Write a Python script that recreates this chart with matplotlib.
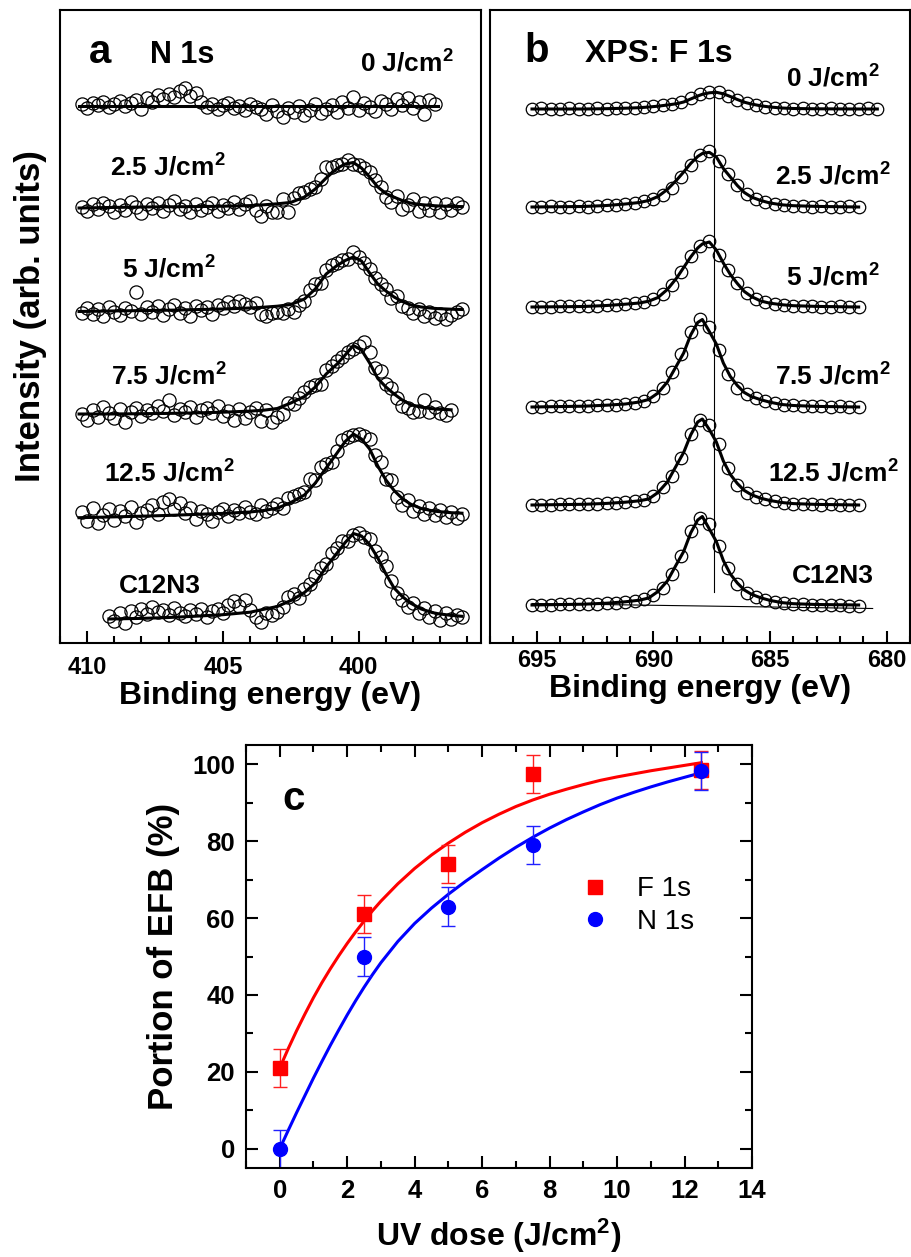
import numpy as np
import matplotlib
matplotlib.use('Agg')
import matplotlib.pyplot as plt
from matplotlib.ticker import MultipleLocator

plt.rcParams['font.family'] = ['Liberation Sans', 'DejaVu Sans']
plt.rcParams['font.weight'] = 'bold'
plt.rcParams['axes.labelweight'] = 'bold'
plt.rcParams['mathtext.fontset'] = 'custom'
plt.rcParams['mathtext.rm'] = 'Liberation Sans:bold'
plt.rcParams['mathtext.it'] = 'Liberation Sans:bold'
plt.rcParams['mathtext.bf'] = 'Liberation Sans:bold'

nan = np.nan

#------ panel a: N 1s spectra, intensity in arb. units (stacked) ------
n1s_names = ['0 J/cm$^2$', '2.5 J/cm$^2$', '5 J/cm$^2$', '7.5 J/cm$^2$', '12.5 J/cm$^2$', 'C12N3']
n1s_offset = [537, 436, 333, 229, 126, 24]
n1s_start = [410.2, 410.2, 410.2, 410.2, 410.2, 409.2]  # eV, first point of each scan
n1s_step = 0.2  # eV

n1s_0 = [2, -2, 3, 1, 4, -1, 2, 5, 0, 3, 6, -3, 8, 4, 11, 7, 12, 9, 15, 18, 10, 13, 4, -1, 2, -3, 1, 3, -2, 0,
         -4, 2, -1, -3, -8, 1, -5, -11, -2, -6, 0, -9, -4, 2, -7, -3, 1, -6, 4, -2, 9, -4, 3, -1, -5, 5, 2, -3,
         7, 1, 8, -2, 4, -8, 6, 2]
n1s_25 = [0, -4, 3, -2, 4, 1, -5, 2, -3, 5, 0, -6, 3, -1, 4, -4, 2, 6, -2, 1, -5, 3, -3, 0, 4, -4, 2, -1, 5, -2,
          3, 6, -3, -9, 1, -5, -5, 8, -5, 9, 14, 15, 18, 20, 28, 40, 40, 42, 43, 47, 43, 42, 39, 35, 27, 20, 10,
          5, 11, -2, 2, 8, -4, 4, -3, 4, -5, 3, -3, 4, 0]
n1s_5 = [-3, 2, -4, 1, -6, 3, -2, -5, 2, -1, 18, -4, 3, -2, 4, -5, 1, 5, -3, 2, -6, 4, 0, 3, -4, 5, 2, 8, 4, 9,
         6, 3, 7, -4, -6, -3, -2, -3, 1, -2, 5, 9, 20, 26, 27, 40, 45, 47, 50, 51, 58, 53, 47, 41, 32, 26, 21,
         12, 14, 4, 2, -3, 1, -6, -2, -8, -4, -9, -5, -2, 1]
n1s_75 = [0, -6, 4, -3, 7, 1, -4, 5, -8, 2, 6, -2, 4, 1, 8, 3, 14, -1, 5, 2, 7, -3, 4, 6, 1, 8, -2, 3, -6, 5,
          -4, 2, 6, -7, 4, -8, -3, 0, 11, 10, 16, 22, 27, 29, 30, 44, 48, 53, 57, 62, 65, 68, 72, 62, 46, 43, 30,
          26, 16, 8, 6, 2, 3, 14, 2, 7, 1, -1, 4]
n1s_125 = [5, -4, 9, -6, 2, 8, -3, 6, 1, 10, -5, 4, 7, 12, 3, 15, 18, 8, 14, 4, 9, -2, 6, 3, -4, 5, 8, 1, 7, 4,
           10, 5, 3, 12, 6, 9, 13, 9, 19, 21, 23, 25, 38, 37, 50, 53, 55, 66, 77, 80, 82, 83, 81, 78, 62, 55, 38,
           37, 20, 12, 17, 6, 11, 3, 9, 2, 7, 0, 5, -1, 3]
n1s_c12 = [3, -2, 6, -4, 8, 2, 10, 5, 12, 7, 9, 4, 11, 6, 3, 9, 5, 10, 2, 8, 10, 6, 14, 18, 13, 19, 9, 2, -3, 6,
           4, 7, 12, 22, 25, 21, 30, 35, 43, 51, 55, 66, 71, 78, 78, 84, 86, 82, 80, 68, 62, 53, 38, 26, 19, 12,
           16, 6, 11, 2, 8, -1, 6, 0, 4, 2]
n1s_data = [n1s_0, n1s_25, n1s_5, n1s_75, n1s_125, n1s_c12]

# fitted curves, read on a coarser energy grid
n1s_fit_e = [410.3, 409.2, 408, 407, 406, 405, 404, 403.5, 403, 402.5, 402, 401.6, 401.2, 400.8, 400.5, 400.2,
             399.9, 399.6, 399.3, 399.0, 398.7, 398.4, 398.1, 397.7, 397.3, 397.1, 396.6, 396.2]
n1s_fit_0 = [0, 0, 0, 0, 0, 0, 0, 0, 0, 0, 0, 0, 0, 0, 0, 0, 0, 0, 0, 0, 0, 0, 0, 0, 0, 0, nan, nan]
n1s_fit_25 = [-1, -0.5, 0, 0.2, 0.4, 0.8, 1.4, 2.2, 3.2, 4.6, 10, 18, 29, 38.5, 43, 44.5, 39, 30, 20, 13.5,
              9.8, 6.5, 4, 2.4, 1.4, 1.1, 0.6, 0.4]
n1s_fit_5 = [-1.5, -1, -0.6, -0.2, 0.4, 1, 2, 2.8, 3.8, 5.5, 11, 21, 36, 44.5, 49.5, 53, 49, 37, 26, 19,
             13, 8.5, 5.2, 3, 1.8, 1.4, 0.8, 0.5]
n1s_fit_75 = [0, 0, 0.3, 0.6, 1.1, 1.8, 2.9, 3.8, 5.5, 11, 17.5, 27, 40, 50, 59, 68.5, 64, 51, 35.5, 27,
              20, 14, 9.5, 6.8, 5.3, 4.8, 4.2, nan]
n1s_fit_125 = [-0.7, 0, 0.8, 1.6, 2.6, 3.6, 5, 6.5, 8.8, 14.5, 22, 34, 49, 64, 75.5, 83, 78, 68, 51, 37,
               26.5, 18.5, 13, 8.5, 6.2, 5.5, 4.3, 3.8]
n1s_fit_c12 = [nan, 0, 0.6, 1.5, 2.8, 4.3, 6.8, 9.7, 12.5, 18.5, 26.5, 36, 52, 66, 76.5, 85.5, 83, 74.5, 61, 45,
               31, 22.5, 16, 10, 6.5, 5.4, 3.6, 2.7]
n1s_fits = [n1s_fit_0, n1s_fit_25, n1s_fit_5, n1s_fit_75, n1s_fit_125, n1s_fit_c12]

#------ panel b: F 1s spectra ------
f1s_names = n1s_names
f1s_offset = [534, 436, 336, 236, 138, 38]
f1s_start = 695.2
f1s_step = 0.4

f1s_0 = [0, 1, 0, 0, 1, 0, 0, 1, 0, 1, 1, 1, 2, 3, 4, 5, 7, 11, 15, 17, 17, 13, 9, 6, 4, 2, 1, 1, 0, 1,
         0, 0, 1, 0, 0, 0, 1, 0]
f1s_25 = [0, 0, 1, 0, 0, 1, 0, 1, 2, 2, 3, 4, 6, 8, 12, 19, 30, 42, 52, 56, 46, 33, 22, 13, 8, 5, 3, 2, 1, 1,
          0, 1, 0, 0, 1, 0]
f1s_5 = [0, 0, 0, 1, 1, 1, 1, 1, 2, 2, 3, 4, 5, 8, 13, 22, 35, 51, 61, 66, 52, 37, 24, 14, 8, 5, 3, 2, 1, 1,
         1, 0, 0, 1, 0, 0]
f1s_75 = [0, 0, 1, 1, 1, 1, 1, 2, 2, 2, 3, 4, 6, 11, 19, 35, 53, 75, 88, 80, 57, 33, 19, 13, 9, 6, 4, 2, 2, 1,
          1, 1, 0, 1, 0, 0]
f1s_125 = [0, 0, 0, 1, 1, 1, 1, 1, 2, 2, 3, 4, 5, 9, 18, 29, 47, 71, 85, 80, 61, 37, 20, 12, 8, 6, 4, 2, 1, 1,
           1, 0, 1, 0, 0, 0]
f1s_c12 = [0, 0, 0, 1, 1, 1, 1, 1, 2, 2, 3, 4, 6, 10, 17, 31, 49, 74, 87, 81, 59, 37, 21, 12, 8, 5, 3, 2, 1, 1,
           0, 0, 0, 0, -1, -1]
f1s_data = [f1s_0, f1s_25, f1s_5, f1s_75, f1s_125, f1s_c12]

f1s_fit_e = [695.2, 693, 692, 691.2, 690.6, 690.2, 689.8, 689.4, 689.0, 688.7, 688.4, 688.1, 687.9, 687.6,
             687.3, 687.0, 686.7, 686.4, 686.1, 685.8, 685.4, 685.0, 684.5, 684, 683, 681.2, 680.4]
f1s_fit_0 = [0, 0, 0.3, 0.8, 1.3, 2, 2.8, 4, 5.3, 7, 10, 13, 14.7, 16.2, 16.7, 15.2, 12.5, 9.5, 6.8, 5,
             3.2, 2, 1, 0.5, 0.2, 0, 0]
f1s_fit_25 = [0, 0.5, 1.5, 3, 4.5, 6.5, 10.5, 17.5, 27, 35, 43.5, 50.5, 53.5, 54.7, 50, 38.5, 30, 21.5, 14.5, 10,
              6.5, 4, 2.2, 1.3, 0.6, 0, nan]
f1s_fit_5 = [0, 0.5, 1.5, 2.8, 4, 5.8, 9.5, 17.5, 29, 39.5, 50, 59, 63, 65, 57, 44, 32.5, 23.5, 15.5, 10.5,
             6, 3.8, 2.3, 1.3, 0.6, 0, nan]
f1s_fit_75 = [0, 0.8, 1.8, 3, 5, 7.5, 14, 25, 41.5, 54, 72, 84.5, 87.5, 75.5, 63, 44, 30.5, 21.5, 14.5, 10.5,
              7.3, 4.8, 2.5, 1.5, 0.6, 0, nan]
f1s_fit_125 = [0, 0.7, 1.6, 2.8, 4.2, 6, 12.5, 23, 40, 52.5, 70, 83, 86, 75.5, 63, 44, 30.5, 21.5, 14.5, 10.3,
               6.8, 4.5, 2.5, 1.4, 0.6, 0, nan]
f1s_fit_c12 = [0, 0.8, 1.8, 3.2, 4.8, 7, 13.5, 24, 41, 53.5, 72, 85, 88.5, 76, 63.5, 44.5, 31, 22, 15, 10.8,
               7.2, 4.6, 2.4, 1.3, 0.5, 0, nan]
f1s_fits = [f1s_fit_0, f1s_fit_25, f1s_fit_5, f1s_fit_75, f1s_fit_125, f1s_fit_c12]

# guide line at the F 1s peak and linear background under C12N3
f1s_ref_e = 687.4
f1s_ref_span = [51, 548]
c12_bg_e = [695.2, 680.6]
c12_bg = [1.5, -3.5]

#------ panel c: portion of EFB vs UV dose ------
dose = [0, 2.5, 5, 7.5, 12.5]
f1s_frac = [21, 61, 74, 97.5, 98.5]
f1s_err = [5, 5, 5, 5, 5]
n1s_frac = [0, 50, 63, 79, 98.3]
n1s_err = [5, 5, 5, 5, 5]

fit_dose = [0, 0.25, 0.5, 0.75, 1, 1.25, 1.5, 1.75, 2, 2.25, 2.5, 2.75, 3, 3.5, 4, 4.5, 5, 5.5, 6, 6.5,
            7, 7.5, 8, 8.5, 9, 9.5, 10, 10.5, 11, 11.5, 12, 12.5]
f1s_fitc = [21, 26, 30.7, 35.1, 39.3, 43.2, 46.8, 50.2, 53.4, 56.4, 59.2, 61.9, 64.4, 68.9, 72.9, 76.4, 79.5,
            82.3, 84.8, 87.0, 89.0, 90.7, 92.2, 93.5, 94.7, 95.8, 96.7, 97.5, 98.3, 99.0, 99.7, 100.4]
n1s_fitc = [0, 4.75, 9.4, 13.9, 18.4, 22.7, 26.9, 30.9, 34.8, 38.5, 42.0, 45.3, 48.4, 53.9, 58.6, 62.6, 66.2,
            69.5, 72.6, 75.6, 78.4, 81.0, 83.4, 85.6, 87.6, 89.5, 91.2, 92.7, 94.1, 95.4, 96.6, 97.8]

#---------------------------------------------------------------
W, H = 912, 1257
fig = plt.figure(figsize=(W / 100, H / 100), dpi=100)

ax_a = fig.add_axes([60 / W, 1 - 643 / H, 421 / W, 633 / H])
ax_b = fig.add_axes([490 / W, 1 - 643 / H, 420 / W, 633 / H])
ax_c = fig.add_axes([246 / W, 1 - 1168 / H, 506 / W, 423 / H])

for ax in (ax_a, ax_b, ax_c):
    for s in ax.spines.values():
        s.set_linewidth(1.5)

# panel a
for i in range(len(n1s_data)):
    e = n1s_start[i] - n1s_step * np.arange(len(n1s_data[i]))
    ax_a.plot(e, np.array(n1s_data[i]) + n1s_offset[i], 'o', mfc='none', mec='k', ms=9.5, mew=0.9)
    ax_a.plot(n1s_fit_e, np.array(n1s_fits[i]) + n1s_offset[i], 'k-', lw=2.2)

ax_a.set_xlim(411, 395.5)
ax_a.set_ylim(0, 633)
ax_a.set_yticks([])
ax_a.xaxis.set_major_locator(MultipleLocator(5))
ax_a.xaxis.set_minor_locator(MultipleLocator(1))
ax_a.tick_params(axis='x', which='major', direction='in', length=9, width=1.5, labelsize=17, pad=9)
ax_a.tick_params(axis='x', which='minor', direction='in', length=5, width=1.5)
ax_a.set_xlabel('Binding energy (eV)', fontsize=23, labelpad=2)

ax_a.text(409.95, 580, 'a', fontsize=29, ha='left', va='baseline')
ax_a.text(407.67, 580, 'N 1s', fontsize=22, ha='left', va='baseline')
n1s_lab_xy = [(399.95, 571), (409.17, 467), (408.71, 365), (409.14, 258), (409.39, 161), (408.84, 50)]
for name, (x, y) in zip(n1s_names, n1s_lab_xy):
    ax_a.text(x, y, name, fontsize=19, ha='left', va='baseline')

# panel b
for i in range(len(f1s_data)):
    e = f1s_start - f1s_step * np.arange(len(f1s_data[i]))
    ax_b.plot(e, np.array(f1s_data[i]) + f1s_offset[i], 'o', mfc='none', mec='k', ms=9, mew=0.9)
    ax_b.plot(f1s_fit_e, np.array(f1s_fits[i]) + f1s_offset[i], 'k-', lw=2.2)
ax_b.plot([f1s_ref_e, f1s_ref_e], f1s_ref_span, 'k-', lw=0.8)
ax_b.plot(c12_bg_e, np.array(c12_bg) + f1s_offset[-1], 'k-', lw=0.8)

ax_b.set_xlim(697, 679)
ax_b.set_ylim(0, 633)
ax_b.set_yticks([])
ax_b.xaxis.set_major_locator(MultipleLocator(5))
ax_b.xaxis.set_minor_locator(MultipleLocator(1))
ax_b.tick_params(axis='x', which='major', direction='in', length=9, width=1.5, labelsize=17, pad=4)
ax_b.tick_params(axis='x', which='minor', direction='in', length=5, width=1.5)
ax_b.set_xlabel('Binding energy (eV)', fontsize=23, labelpad=2)

ax_b.text(695.53, 581, 'b', fontsize=29, ha='left', va='baseline')
ax_b.text(692.91, 581, 'XPS: F 1s', fontsize=23, ha='left', va='baseline')
f1s_lab_xy = [(684.3, 556), (684.8, 458), (684.3, 357), (684.8, 258), (685.09, 161), (684.08, 60)]
for name, (x, y) in zip(f1s_names, f1s_lab_xy):
    ax_b.text(x, y, name, fontsize=19, ha='left', va='baseline')

fig.text(31 / W, 1 - 316 / H, 'Intensity (arb. units)', rotation=90, fontsize=25,
         ha='center', va='center')

# panel c
ax_c.plot(fit_dose, f1s_fitc, '-', color='#ff0000', lw=2.2)
ax_c.plot(fit_dose, n1s_fitc, '-', color='#0000ff', lw=2.2)
ax_c.errorbar(dose, f1s_frac, yerr=f1s_err, fmt='none', ecolor='#ff2020', elinewidth=1, capsize=5, capthick=1)
ax_c.plot(dose, f1s_frac, 's', color='#ff0000', ms=9.5, label='F 1s')
ax_c.errorbar(dose, n1s_frac, yerr=n1s_err, fmt='none', ecolor='#2020ff', elinewidth=1, capsize=5, capthick=1)
ax_c.plot(dose, n1s_frac, 'o', color='#0000ff', ms=10, label='N 1s')

ax_c.set_xlim(-1, 14)
ax_c.set_ylim(-5, 105)
ax_c.xaxis.set_major_locator(MultipleLocator(2))
ax_c.xaxis.set_minor_locator(MultipleLocator(1))
ax_c.yaxis.set_major_locator(MultipleLocator(20))
ax_c.yaxis.set_minor_locator(MultipleLocator(10))
ax_c.tick_params(which='both', direction='in', top=True, right=True, width=1.5, labelsize=18.5)
ax_c.tick_params(which='major', length=8.5, pad=8)
ax_c.tick_params(which='minor', length=5)
ax_c.set_xlabel('UV dose (J/cm$^2$)', fontsize=23, labelpad=10)
ax_c.set_ylabel('Portion of EFB (%)', fontsize=25)
ax_c.yaxis.set_label_coords(-0.13, 0.5)
ax_c.text(0.09, 88, 'c', fontsize=29, ha='left', va='baseline')
ax_c.legend(loc='center left', bbox_to_anchor=(0.64, 0.62), frameon=False,
            prop={'weight': 'normal', 'size': 20}, handlelength=1.0, handletextpad=1.0,
            labelspacing=0.25, borderaxespad=0)

fig.savefig('out.png', dpi=100)
